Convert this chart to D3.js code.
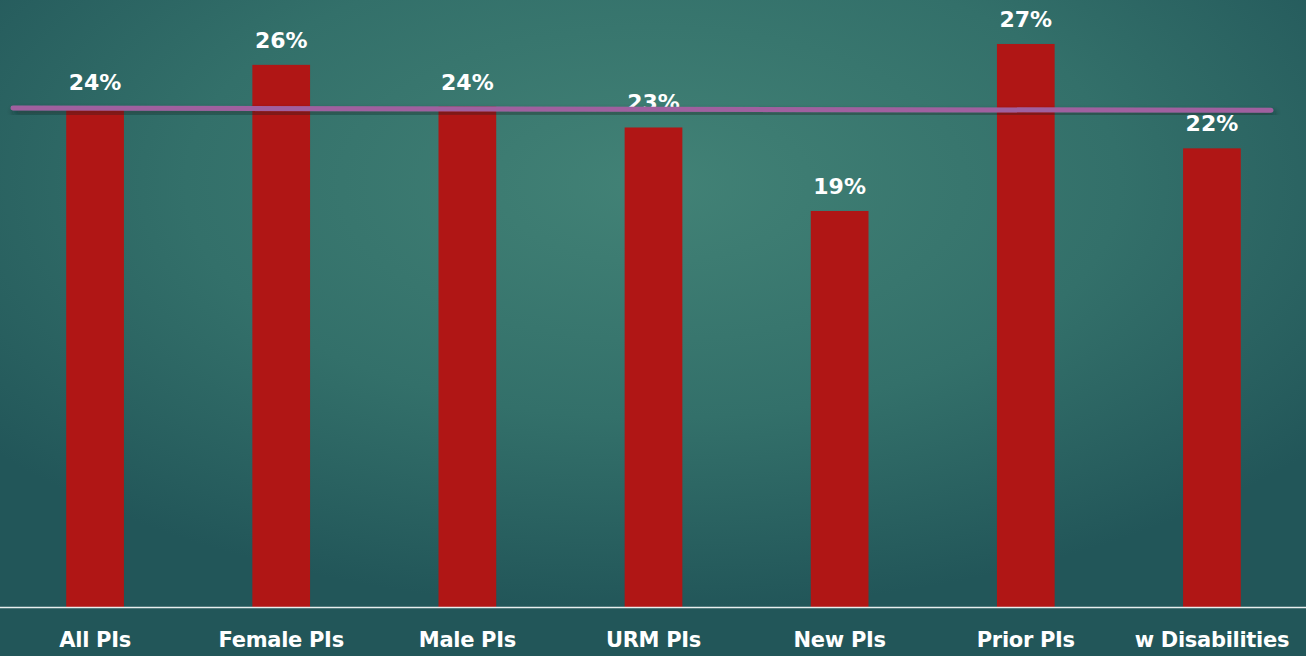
<!DOCTYPE html>
<html>
<head>
<meta charset="utf-8">
<script src="https://cdn.jsdelivr.net/npm/d3@7"></script>
<style>
  html, body { margin: 0; padding: 0; background: #2b6360; }
  svg { display: block; }
</style>
</head>
<body>
<script>
const width = 1306;
const height = 656;

const categories = ["All PIs", "Female PIs", "Male PIs", "URM PIs", "New PIs", "Prior PIs", "w Disabilities"];
const values = [24, 26, 24, 23, 19, 27, 22];
// reference line, value at the left and right end
const refLine = [23.93, 23.82];

const baseY = 607.6;
const pxPerPct = 20.875;

const svg = d3.select("body").append("svg")
  .attr("width", width)
  .attr("height", height)
  .style("font-family", "'DejaVu Sans', sans-serif");

const defs = svg.append("defs");
const bg = defs.append("radialGradient")
  .attr("id", "bg")
  .attr("cx", "50%").attr("cy", "28%").attr("r", "65%")
  .attr("gradientUnits", "objectBoundingBox");
bg.append("stop").attr("offset", "0%").attr("stop-color", "#428276");
bg.append("stop").attr("offset", "55%").attr("stop-color", "#33706a");
bg.append("stop").attr("offset", "100%").attr("stop-color", "#225659");

const shadow = defs.append("filter").attr("id", "shadow")
  .attr("x", "-5%").attr("y", "-200%").attr("width", "110%").attr("height", "500%");
shadow.append("feDropShadow")
  .attr("dx", 2).attr("dy", 4).attr("stdDeviation", 3)
  .attr("flood-color", "#0a1e1e").attr("flood-opacity", 0.6);

svg.append("rect").attr("width", width).attr("height", height).attr("fill", "url(#bg)");

const x = d3.scaleBand()
  .domain(categories)
  .range([2, 1305])
  .paddingInner(0.69)
  .paddingOuter(0.345);

const y = d3.scaleLinear()
  .domain([0, 27])
  .range([baseY, baseY - 27 * pxPerPct]);

svg.selectAll(".bar")
  .data(values)
  .enter()
  .append("rect")
  .attr("class", "bar")
  .attr("x", (d, i) => x(categories[i]))
  .attr("y", (d) => y(d))
  .attr("width", x.bandwidth())
  .attr("height", (d) => y(0) - y(d))
  .attr("fill", "#b01615");

svg.selectAll(".val")
  .data(values)
  .enter()
  .append("text")
  .attr("class", "val")
  .attr("x", (d, i) => x(categories[i]) + x.bandwidth() / 2)
  .attr("y", (d) => y(d) - 17)
  .attr("text-anchor", "middle")
  .attr("fill", "#ffffff")
  .attr("font-size", 22)
  .attr("font-weight", "bold")
  .text((d) => d + "%");

// reference line
svg.append("line")
  .attr("x1", 13)
  .attr("x2", 1271)
  .attr("y1", y(refLine[0]))
  .attr("y2", y(refLine[1]))
  .attr("stroke", "#a0619f")
  .attr("stroke-width", 5)
  .attr("stroke-linecap", "round")
  .attr("filter", "url(#shadow)");

const xAxis = d3.axisBottom(x).tickSize(0).tickPadding(24);

const gx = svg.append("g")
  .attr("transform", `translate(0, ${y(0)})`)
  .call(xAxis);

gx.select(".domain").remove();
gx.append("line")
  .attr("x1", 0).attr("x2", width)
  .attr("y1", 0).attr("y2", 0)
  .attr("stroke", "#e8eeee")
  .attr("stroke-width", 1.5);

gx.selectAll(".tick text")
  .attr("fill", "#ffffff")
  .attr("font-size", 21)
  .attr("font-weight", "bold")
  .attr("letter-spacing", -0.3)
  .style("font-family", "'DejaVu Sans', sans-serif");
</script>
</body>
</html>
